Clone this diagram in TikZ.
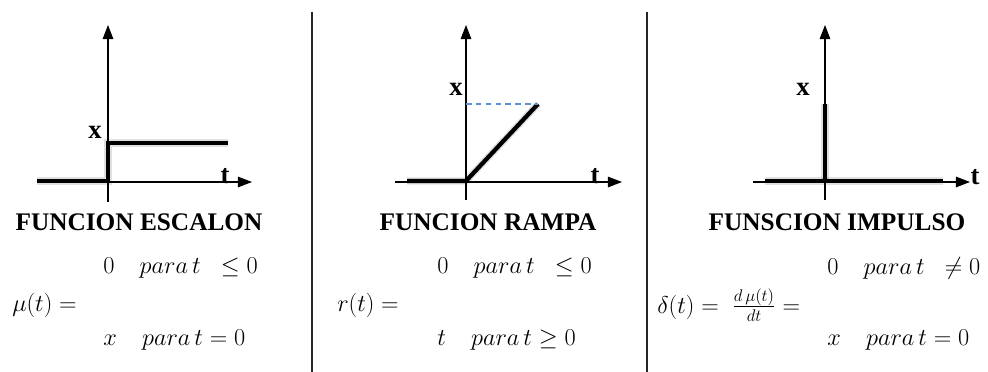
\documentclass[tikz,border=0pt]{standalone}
\usepackage{amsmath}
\usepackage{fontspec}
\setmainfont{Liberation Serif}
\usetikzlibrary{arrows.meta, positioning, calc}
\definecolor{dashblue}{RGB}{91,145,210}

\begin{document}
\begin{tikzpicture}[x=0.025cm, y=-0.025cm,
        axis/.style={line width=0.8pt, -{Triangle[length=10pt, width=7.5pt]}},
        signal/.style={line width=3pt, line join=miter},
        shade/.style={line width=5pt, draw=black, opacity=0.12, shift={(2,3)}},
        divider/.style={line width=1pt, draw=black!85},
        guide/.style={line width=0.8pt, draw=dashblue, dash pattern=on 4pt off 3pt},
        title/.style={font={\fontsize{18}{20}\selectfont\bfseries}, inner sep=0pt},
        lbl/.style={font={\fontsize{19}{21}\selectfont\bfseries}, inner sep=0pt},
        eq/.style={font={\fontsize{18}{20}\selectfont}, anchor=west, inner sep=0pt}
    ]
        \useasboundingbox (0,0) rectangle (988,372);

        % Dividers
        \coordinate (d1top) at (312,12);
        \coordinate (d1bot) at (312,372);
        \coordinate (d2top) at (647,12);
        \coordinate (d2bot) at (647,372);
        \draw [divider] (d1top) -- (d1bot);
        \draw [divider] (d2top) -- (d2bot);

        % Step (left)
        \coordinate (v1a) at (108,202);
        \coordinate (v1b) at (108,25);
        \coordinate (h1a) at (37,182);
        \coordinate (h1b) at (252,182);
        \coordinate (s1a) at (37,181);
        \coordinate (s1o) at (108,181);
        \coordinate (s1up) at (108,143);
        \coordinate (s1end) at (228,143);
        \draw [shade] (s1a) -- (s1o) -- (s1up) -- (s1end);
        \draw [axis] (v1a) -- (v1b);
        \draw [axis] (h1a) -- (h1b);
        \draw [signal] (s1a) -- (s1o) -- (s1up) -- (s1end);
        \node (x1) [lbl] at (95,132) {x};
        \node (t1) [lbl] at (225,176) {t};
        \node (title1) [title] at (139,222) {FUNCION ESCALON};
        \node (c1a) [eq] at (103,268) {$0\quad para\,t\;\;\leq 0$};
        \node (f1) [eq] at (12,305) {$\mu(t) =$};
        \node (c1b) [eq] at (103,340) {$x\quad para\,t = 0$};

        % Ramp (middle)
        \coordinate (v2a) at (466,200);
        \coordinate (v2b) at (466,25);
        \coordinate (h2a) at (395,182);
        \coordinate (h2b) at (622,182);
        \coordinate (r2a) at (407,181);
        \coordinate (r2o) at (466,181);
        \coordinate (r2end) at (538,104);
        \coordinate (g2) at (466,104);
        \draw [shade] (r2a) -- (r2o) -- (r2end);
        \draw [axis] (v2a) -- (v2b);
        \draw [axis] (h2a) -- (h2b);
        \draw [signal] (r2a) -- (r2o) -- (r2end);
        \draw [guide] (g2) -- (r2end);
        \node (x2) [lbl] at (456,89) {x};
        \node (t2) [lbl] at (595,176) {t};
        \node (title2) [title] at (488,222) {FUNCION RAMPA};
        \node (c2a) [eq] at (437,268) {$0\quad para\,t\;\;\leq 0$};
        \node (f2) [eq] at (337,305) {$r(t) =$};
        \node (c2b) [eq] at (437,340) {$t\quad para\,t \geq 0$};

        % Impulse (right)
        \coordinate (v3a) at (825,200);
        \coordinate (v3b) at (825,25);
        \coordinate (h3a) at (753,182);
        \coordinate (h3b) at (970,182);
        \coordinate (i3a) at (765,181);
        \coordinate (i3b) at (943,181);
        \coordinate (i3o) at (825,181);
        \coordinate (i3top) at (825,104);
        \draw [shade] (i3a) -- (i3b);
        \draw [shade] (i3o) -- (i3top);
        \draw [axis] (v3a) -- (v3b);
        \draw [axis] (h3a) -- (h3b);
        \draw [signal] (i3a) -- (i3b);
        \draw [signal] (i3o) -- (i3top);
        \node (x3) [lbl] at (803,89) {x};
        \node (t3) [lbl] at (975,177) {t};
        \node (title3) [title] at (837,222) {FUNSCION IMPULSO};
        \node (c3a) [eq] at (827,268) {$0\quad para\,t\;\;\neq 0$};
        \node (f3) [eq] at (657,305) {$\delta(t) =\;\frac{d\,\mu(t)}{dt} =$};
        \node (c3b) [eq] at (827,340) {$x\quad para\,t = 0$};
    \end{tikzpicture}
\end{document}
